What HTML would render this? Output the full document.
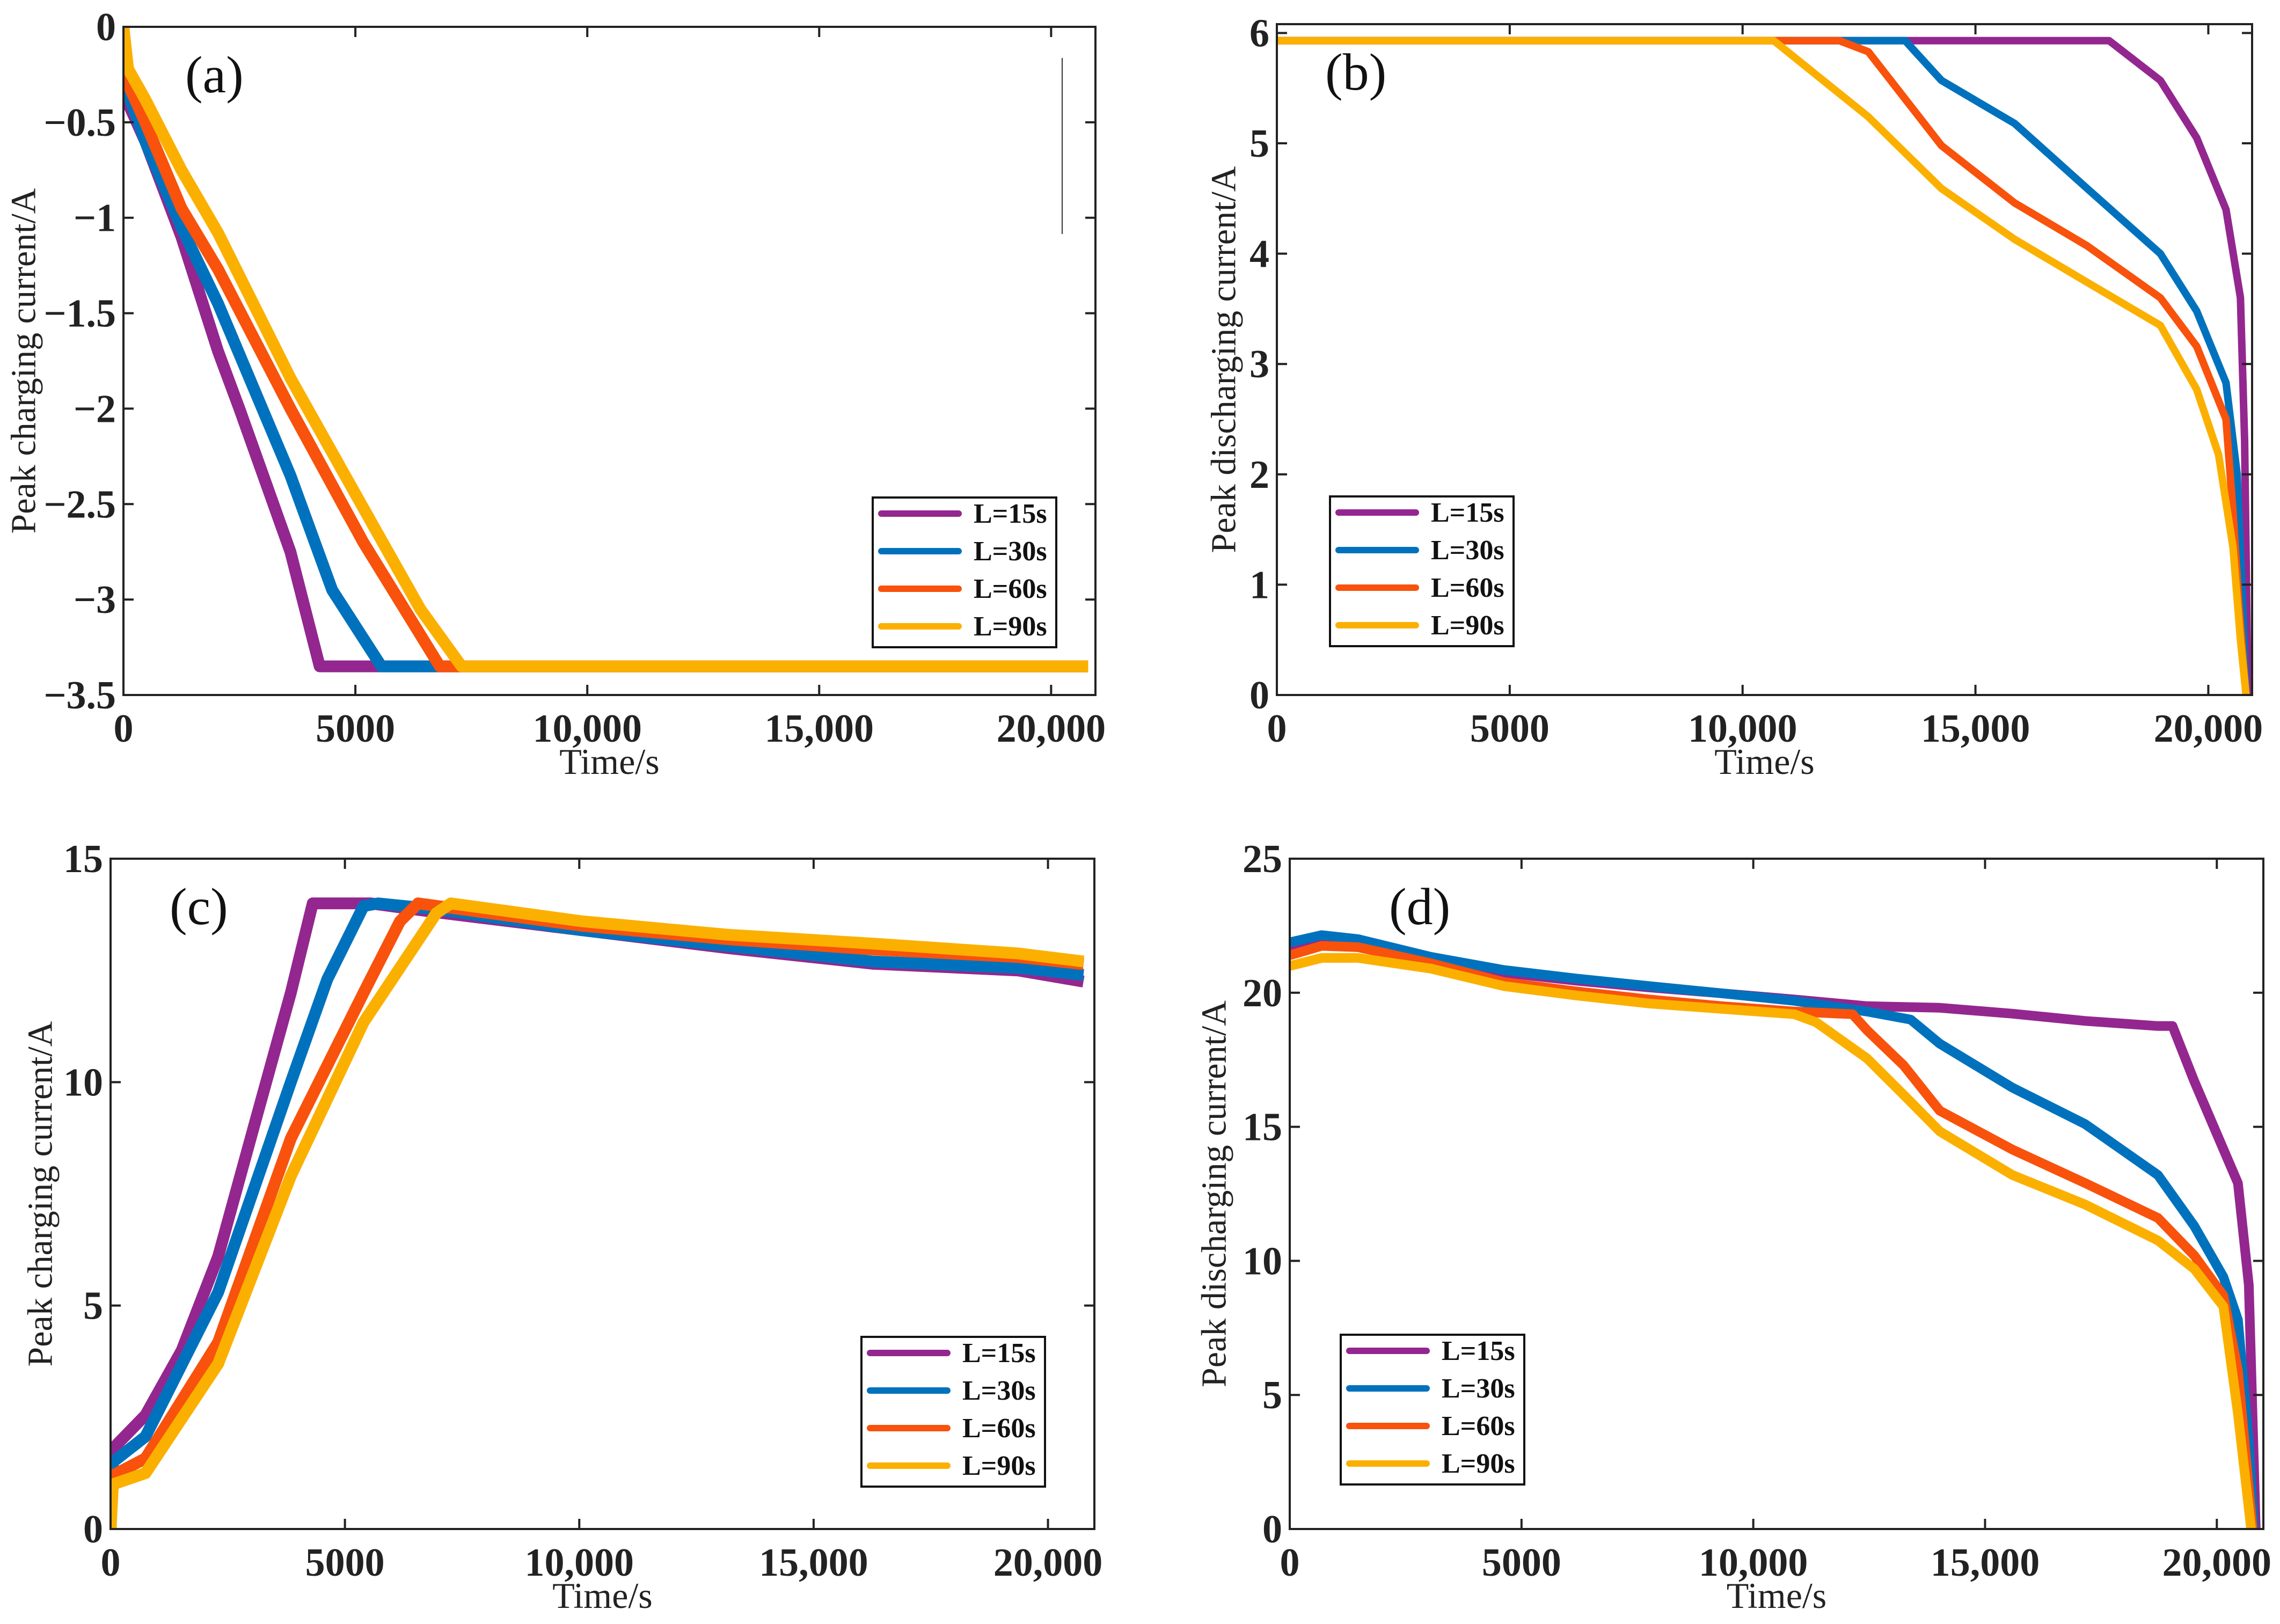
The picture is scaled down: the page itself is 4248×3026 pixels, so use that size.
<!DOCTYPE html>
<html><head><meta charset="utf-8"><style>
html,body{margin:0;padding:0;background:#fff;}
svg{display:block;font-family:"Liberation Serif",serif;}
</style></head><body>
<svg id="fig" width="4248" height="3026" viewBox="0 0 4248 3026" xmlns="http://www.w3.org/2000/svg"></svg>
<script>
// ---- Panel (a) data: peak charging current ----
const aT15=[0,100,470,1250,2040,2500,3600,4230,20800];
const aV15=[0,-0.4,-0.6,-1.1,-1.7,-2.0,-2.75,-3.35,-3.35];
const aT30=[0,100,470,1250,2040,3600,4500,5560,20800];
const aV30=[0,-0.35,-0.6,-1.05,-1.45,-2.35,-2.95,-3.35,-3.35];
const aT60=[0,100,470,1250,2040,3600,5170,6820,20800];
const aV60=[0,-0.3,-0.5,-0.95,-1.27,-2.0,-2.7,-3.35,-3.35];
const aT90=[0,100,470,1250,2040,3600,5170,6400,7290,20800];
const aV90=[0,-0.22,-0.38,-0.75,-1.08,-1.84,-2.52,-3.05,-3.35,-3.35];
const aYTicks=[0,-0.5,-1,-1.5,-2,-2.5,-3,-3.5];
const aYLabels=["0","\u22120.5","\u22121","\u22121.5","\u22122","\u22122.5","\u22123","\u22123.5"];
// ---- Panel (b) data: peak discharging current ----
const bT15=[0,17870,18970,19750,20380,20690,20780,20850];
const bV15=[5.93,5.93,5.57,5.05,4.4,3.6,2.3,0];
const bT30=[0,13490,14270,15840,17400,18970,19750,20380,20620,20720,20810];
const bV30=[5.93,5.93,5.57,5.18,4.59,4.0,3.48,2.83,2.0,1.0,0];
const bT60=[0,12080,12700,14270,15840,17400,18970,19750,20380,20530,20660,20810];
const bV60=[5.93,5.93,5.83,4.98,4.46,4.07,3.6,3.16,2.5,1.66,0.8,0];
const bT90=[0,10670,12700,14270,15840,17400,18970,19750,20220,20530,20690,20810];
const bV90=[5.93,5.93,5.24,4.59,4.13,3.74,3.35,2.77,2.18,1.34,0.5,0];
const bYTicks=[0,1,2,3,4,5,6];
const bYLabels=["0","1","2","3","4","5","6"];
// ---- Panel (c) data ----
const cT15=[0,50,745,1520,2296,3072,3847,4313,5554,6950,10053,13155,16258,19360,20757];
const cV15=[0,1.8,2.55,4.0,6.1,9.06,12.0,14.0,14.0,13.8,13.4,13.0,12.65,12.5,12.25];
const cT30=[0,50,745,2296,3847,4623,5398,5708,6950,10053,13155,16258,19360,20757];
const cV30=[0,1.5,2.07,5.3,10.0,12.3,13.94,14.0,13.87,13.4,13.05,12.7,12.56,12.4];
const cT60=[0,50,745,2296,3847,5398,6174,6562,10053,13155,16258,19360,20757];
const cV60=[0,1.2,1.58,4.18,8.74,12.0,13.6,14.0,13.5,13.2,12.97,12.8,12.64];
const cT90=[0,50,745,2296,3847,5398,6950,7260,10053,13155,16258,19360,20757];
const cV90=[0,1.0,1.25,3.7,7.9,11.34,13.78,14.0,13.6,13.3,13.1,12.88,12.7];
const cYTicks=[0,5,10,15];
const cYLabels=["0","5","10","15"];
// ---- Panel (d) data ----
const dT15=[0,690,1475,3043,4612,6180,7749,9318,10886,12455,14023,15592,17161,18730,19044,19514,19984,20455,20690,20840];
const dV15=[21.6,21.9,21.8,21.2,20.75,20.45,20.2,19.98,19.75,19.5,19.44,19.22,18.95,18.76,18.76,16.7,14.8,12.9,9.1,0];
const dT30=[0,690,1475,3043,4612,6180,7749,9318,10886,12455,13396,14023,15592,17161,18730,19514,20141,20455,20690,20800];
const dV30=[21.88,22.15,22.0,21.34,20.85,20.53,20.25,19.98,19.7,19.3,19.0,18.1,16.46,15.1,13.2,11.3,9.4,7.8,3.2,0];
const dT60=[0,690,1475,3043,4612,6180,7749,9318,10886,12141,12455,13239,14023,15592,17161,18730,19514,20141,20455,20770];
const dV60=[21.4,21.75,21.7,21.1,20.4,20.05,19.75,19.5,19.3,19.2,18.6,17.3,15.6,14.15,12.9,11.6,10.2,8.7,5.9,0];
const dT90=[0,690,1475,3043,4612,6180,7749,9318,10886,11357,12455,13239,14023,15592,17161,18730,19514,20141,20455,20740];
const dV90=[21.0,21.3,21.3,20.9,20.25,19.9,19.6,19.4,19.2,18.9,17.55,16.2,14.83,13.2,12.1,10.76,9.7,8.3,4.3,0];
const dYTicks=[0,5,10,15,20,25];
const dYLabels=["0","5","10","15","20","25"];
// ---- shared ----
const xTicks=[0,5000,10000,15000,20000];
const xLabels=["0","5000","10,000","15,000","20,000"];
const seriesNames=["L=15s","L=30s","L=60s","L=90s"];
const colors=["#93278F","#0072BD","#F8520C","#FBB000"];

const NS="http://www.w3.org/2000/svg";
const svg=document.getElementById('fig');
function el(tag,attrs,parent){const e=document.createElementNS(NS,tag);for(const k in attrs)e.setAttribute(k,attrs[k]);(parent||svg).appendChild(e);return e;}

function panel(cfg){
  const g=el('g',{});
  
  
  const L=cfg.L,R=cfg.R,T=cfg.T,B=cfg.B;
  const xs=v=>L+(v-0)/(cfg.xmax)*(R-L);
  const ys=v=>B-(v-cfg.ymin)/(cfg.ymax-cfg.ymin)*(B-T);
  const cp='clip-'+cfg.id;
  const defs=el('defs',{},g);
  const c=el('clipPath',{id:cp},defs);
  el('rect',{x:L,y:T-6,width:R-L,height:B-T+6},c);
  cfg.series.forEach((s,i)=>{
    const pts=s.t.map((t,j)=>xs(t).toFixed(1)+','+ys(s.v[j]).toFixed(1)).join(' ');
    const p=el('polyline',{points:pts,fill:'none',stroke:colors[i],'stroke-width':cfg.sw,'stroke-linejoin':'round','clip-path':'url(#'+cp+')'},g);
    
    
  });
  const box=el('rect',{x:L,y:T,width:R-L,height:B-T,fill:'none',stroke:'#222','stroke-width':4},g);
  
  
  xTicks.forEach((v,i)=>{
    const x=xs(v);
    el('line',{x1:x,y1:B,x2:x,y2:B-19,stroke:'#222','stroke-width':4},g);
    el('line',{x1:x,y1:T,x2:x,y2:T+19,stroke:'#222','stroke-width':4},g);
    const t=el('text',{x:x,y:B+87,'font-size':74,'font-weight':'bold','text-anchor':'middle',fill:'#222'},g);
    t.textContent=xLabels[i];
    
    
  });
  cfg.yTicks.forEach((v,i)=>{
    const y=ys(v);
    el('line',{x1:L,y1:y,x2:L+19,y2:y,stroke:'#222','stroke-width':4},g);
    el('line',{x1:R,y1:y,x2:R-19,y2:y,stroke:'#222','stroke-width':4},g);
    const t=el('text',{x:L-14,y:y+25,'font-size':74,'font-weight':'bold','text-anchor':'end',fill:'#222'},g);
    t.textContent=cfg.yLabels[i];
    
    
  });
  const xt=el('text',{x:(L+R)/2,y:B+147,'font-size':68,'text-anchor':'middle',fill:'#222'},g);
  xt.textContent='Time/s';
  
  
  const yc=(T+B)/2;
  const yt=el('text',{x:cfg.ytx,y:yc,'font-size':66,'text-anchor':'middle',fill:'#222',transform:'rotate(-90 '+cfg.ytx+' '+yc+')','dominant-baseline':'central'},g);
  yt.textContent=cfg.ytitle;
  
  
  const pl=el('text',{x:L+cfg.plx,y:T+122,'font-size':98,fill:'#111'},g);
  pl.textContent='('+cfg.id+')';
  
  
  const lg=el('g',{},g);
  
  
  el('rect',{x:cfg.lx,y:cfg.ly,width:342,height:279,fill:'#fff',stroke:'#111','stroke-width':4},lg);
  seriesNames.forEach((n,i)=>{
    const yy=cfg.ly+30+i*70;
    const ln=el('line',{x1:cfg.lx+16,y1:yy,x2:cfg.lx+160,y2:yy,stroke:colors[i],'stroke-width':12,'stroke-linecap':'round'},lg);
    
    
    const tx=el('text',{x:cfg.lx+188,y:yy+17,'font-size':52,'font-weight':'bold',fill:'#111'},lg);
    tx.textContent=n;
    
    
  });
  if(cfg.extra)cfg.extra(g);
}

panel({id:'a',L:230,R:2041,T:50,B:1295,xmax:20956,ymin:-3.5,ymax:0,sw:22,plx:115,
  yTicks:aYTicks,yLabels:aYLabels,ytitle:'Peak charging current/A',ytx:44,lx:1626,ly:927,
  series:[{t:aT15,v:aV15},{t:aT30,v:aV30},{t:aT60,v:aV60},{t:aT90,v:aV90}],
  extra:g=>{const l=el('line',{x1:1979,y1:108,x2:1979,y2:436,stroke:'#333','stroke-width':2},g);}});
panel({id:'b',L:2379,R:4196,T:45,B:1295,xmax:20940,ymin:0,ymax:6.08,sw:14,plx:90,
  yTicks:bYTicks,yLabels:bYLabels,ytitle:'Peak discharging current/A',ytx:2280,lx:2478,ly:925,
  series:[{t:bT15,v:bV15},{t:bT30,v:bV30},{t:bT60,v:bV60},{t:bT90,v:bV90}]});
panel({id:'c',L:206,R:2039,T:1600,B:2849,xmax:20990,ymin:0,ymax:15,sw:22,plx:110,
  yTicks:cYTicks,yLabels:cYLabels,ytitle:'Peak charging current/A',ytx:75,lx:1605,ly:2491,
  series:[{t:cT15,v:cV15},{t:cT30,v:cV30},{t:cT60,v:cV60},{t:cT90,v:cV90}]});
panel({id:'d',L:2403,R:4217,T:1600,B:2849,xmax:21004,ymin:0,ymax:25,sw:18,plx:185,
  yTicks:dYTicks,yLabels:dYLabels,ytitle:'Peak discharging current/A',ytx:2262,lx:2498,ly:2487,
  series:[{t:dT15,v:dV15},{t:dT30,v:dV30},{t:dT60,v:dV60},{t:dT90,v:dV90}]});
</script>
</body></html>
